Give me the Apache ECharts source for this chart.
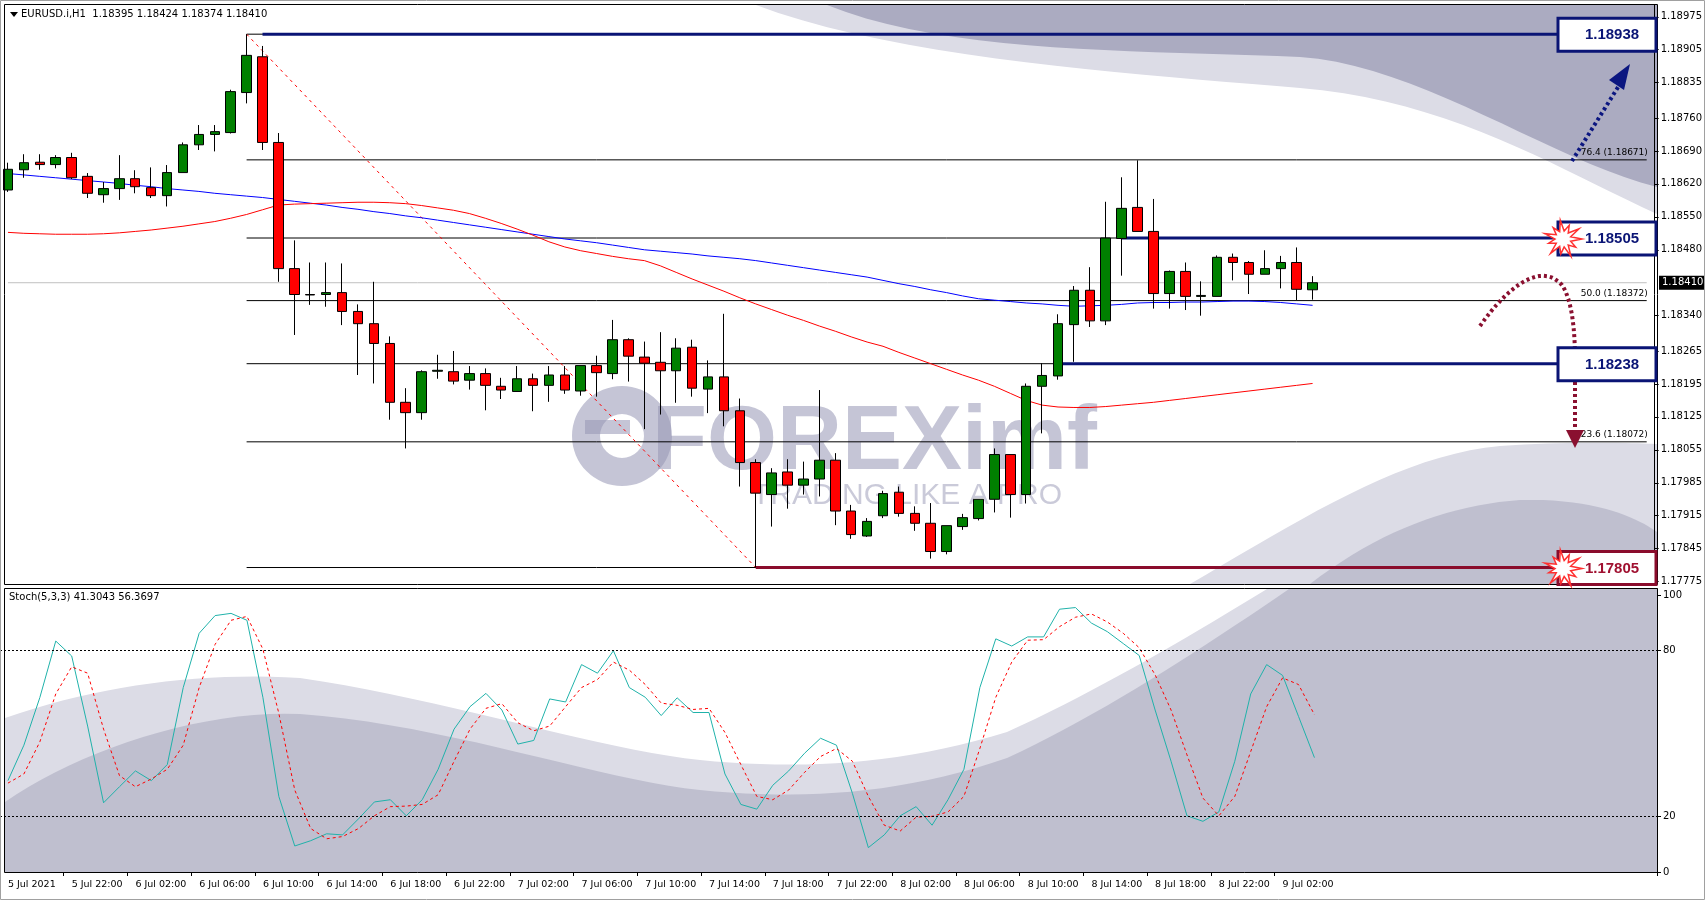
<!DOCTYPE html>
<html><head><meta charset="utf-8">
<script src="https://cdn.jsdelivr.net/npm/echarts@6/dist/echarts.min.js"></script>
<style>html,body{margin:0;padding:0;background:#fff}#c{width:1705px;height:900px}</style>
</head><body><div id="c"></div>
<script>
// ---------- DATA ----------
const opens = [1.18607,1.18650,1.18666,1.18661,1.18676,1.18636,1.18597,1.18610,1.18631,1.18612,1.18595,1.18644,1.18703,1.18725,1.18729,1.18814,1.18890,1.18708,1.18440,1.18385,1.18385,1.18389,1.18349,1.18323,1.18281,1.18156,1.18134,1.18222,1.18221,1.18203,1.18217,1.18190,1.18179,1.18206,1.18192,1.18214,1.18180,1.18234,1.18217,1.18289,1.18252,1.18241,1.18223,1.18273,1.18184,1.18210,1.18138,1.18028,1.17960,1.18008,1.17980,1.17993,1.18033,1.17925,1.17872,1.17915,1.17965,1.17920,1.17899,1.17839,1.17892,1.17909,1.17950,1.18045,1.17960,1.18190,1.18212,1.18321,1.18394,1.18329,1.18504,1.18570,1.18519,1.18387,1.18434,1.18381,1.18381,1.18464,1.18453,1.18428,1.18440,1.18453,1.18395];
const highs = [1.18665,1.18683,1.18683,1.18681,1.18686,1.18643,1.18624,1.18681,1.18649,1.18655,1.18660,1.18708,1.18745,1.18745,1.18820,1.18938,1.18913,1.18728,1.18500,1.18453,1.18453,1.18451,1.18364,1.18412,1.18296,1.18186,1.18224,1.18257,1.18265,1.18233,1.18228,1.18208,1.18233,1.18217,1.18233,1.18233,1.18234,1.18255,1.18331,1.18292,1.18285,1.18305,1.18292,1.18289,1.18245,1.18344,1.18164,1.18035,1.18016,1.18035,1.18030,1.18182,1.18048,1.17938,1.17910,1.17968,1.17977,1.17935,1.17942,1.17894,1.17919,1.17950,1.18058,1.18045,1.18196,1.18239,1.18343,1.18403,1.18443,1.18582,1.18634,1.18670,1.18588,1.18436,1.18453,1.18413,1.18468,1.18472,1.18456,1.18479,1.18467,1.18485,1.18424];
const lows = [1.18603,1.18633,1.18650,1.18653,1.18630,1.18590,1.18580,1.18586,1.18600,1.18590,1.18572,1.18644,1.18692,1.18689,1.18727,1.18791,1.18692,1.18412,1.18299,1.18363,1.18359,1.18320,1.18214,1.18196,1.18119,1.18058,1.18119,1.18206,1.18194,1.18183,1.18139,1.18163,1.18178,1.18137,1.18157,1.18174,1.18170,1.18168,1.18205,1.18200,1.18099,1.18130,1.18155,1.18168,1.18133,1.18105,1.17977,1.17805,1.17892,1.17930,1.17960,1.17956,1.17895,1.17866,1.17870,1.17910,1.17913,1.17883,1.17824,1.17833,1.17885,1.17905,1.17922,1.17911,1.17941,1.18090,1.18204,1.18242,1.18316,1.18320,1.18425,1.18519,1.18355,1.18355,1.18352,1.18340,1.18381,1.18415,1.18386,1.18428,1.18398,1.18372,1.18374];
const closes = [1.18651,1.18665,1.18661,1.18676,1.18633,1.18600,1.18610,1.18631,1.18614,1.18595,1.18644,1.18703,1.18725,1.18731,1.18816,1.18893,1.18708,1.18440,1.18385,1.18384,1.18389,1.18349,1.18323,1.18281,1.18156,1.18134,1.18221,1.18224,1.18201,1.18217,1.18192,1.18182,1.18206,1.18192,1.18214,1.18182,1.18234,1.18219,1.18289,1.18254,1.18239,1.18223,1.18271,1.18186,1.18210,1.18138,1.18028,1.17963,1.18006,1.17980,1.17993,1.18033,1.17925,1.17875,1.17903,1.17962,1.17920,1.17899,1.17839,1.17894,1.17911,1.17950,1.18045,1.17960,1.18190,1.18213,1.18323,1.18394,1.18329,1.18505,1.18568,1.18519,1.18387,1.18434,1.18381,1.18383,1.18464,1.18453,1.18428,1.18440,1.18453,1.18396,1.18410];
const maBlue = [1.18642,1.18639,1.18636,1.18633,1.18630,1.18627,1.18624,1.18621,1.18617,1.18614,1.18610,1.18607,1.18604,1.18600,1.18597,1.18594,1.18591,1.18587,1.18583,1.18579,1.18575,1.18570,1.18566,1.18561,1.18557,1.18552,1.18548,1.18543,1.18538,1.18533,1.18528,1.18523,1.18518,1.18513,1.18508,1.18503,1.18499,1.18495,1.18490,1.18485,1.18480,1.18477,1.18474,1.18471,1.18467,1.18464,1.18461,1.18457,1.18452,1.18447,1.18442,1.18437,1.18432,1.18427,1.18422,1.18415,1.18408,1.18402,1.18395,1.18389,1.18382,1.18376,1.18373,1.18370,1.18367,1.18365,1.18362,1.18360,1.18361,1.18362,1.18364,1.18367,1.18368,1.18368,1.18369,1.18369,1.18370,1.18371,1.18371,1.18370,1.18368,1.18365,1.18362];
const maRed = [1.18517,1.18515,1.18514,1.18513,1.18513,1.18513,1.18514,1.18516,1.18519,1.18522,1.18526,1.18530,1.18535,1.18540,1.18547,1.18555,1.18565,1.18575,1.18577,1.18578,1.18579,1.18580,1.18581,1.18581,1.18580,1.18578,1.18574,1.18569,1.18564,1.18557,1.18547,1.18536,1.18524,1.18511,1.18497,1.18486,1.18478,1.18472,1.18466,1.18461,1.18457,1.18446,1.18432,1.18418,1.18405,1.18392,1.18378,1.18365,1.18353,1.18341,1.18330,1.18318,1.18307,1.18295,1.18284,1.18275,1.18262,1.18250,1.18238,1.18226,1.18214,1.18203,1.18190,1.18175,1.18160,1.18150,1.18146,1.18145,1.18145,1.18147,1.18150,1.18153,1.18156,1.18160,1.18164,1.18168,1.18172,1.18176,1.18180,1.18184,1.18188,1.18192,1.18196];
const stochK = [33,45.8,63,83.4,78,52.7,25,30.8,36.5,33,38.8,66.6,86.2,92.6,93.4,90.9,63.1,27.3,9.4,11.3,13.8,13.4,19.2,25.3,26.1,20.3,26.1,37.1,51.6,59.7,64.5,58.5,46.2,47.5,62.5,61.4,74.9,71.8,79.9,66.6,63.1,56.5,62.9,57.6,57.6,35.4,24.4,22.7,31.3,36.5,42.9,48.3,45.8,28.4,8.8,13.4,20.3,23.6,16.9,26.1,37.1,66.6,84.2,81.6,84.9,84.9,94.9,95.5,89.9,86.8,82.5,78.2,58.5,40,20.3,18.3,21.7,40,64.3,74.9,71,56.2,41.3];
const stochD = [32.1,35.4,47,64.3,74.1,71.8,51.6,34.8,30.8,33.6,37.1,45.8,66.6,82.2,90.9,92.3,80.5,57.3,29.6,15.7,12,12.8,15.7,20.3,23.6,23.8,24.4,27.9,40,51.6,59.1,60.8,53.9,51,52.7,59.7,66.6,69.5,75.8,72.9,67.7,61,60.2,58.7,59.1,50.4,38.8,27.3,26.1,29.6,36,41.7,44.6,40,27.3,16.9,14.8,19.8,20.1,21.7,27.3,44.6,63.1,75.8,83.7,83.9,88.6,92,93.2,90.3,86.2,81,71.2,58.5,42.3,26.7,20.3,27.3,43.5,59.7,70.1,67.7,56.8];
const startTime = Date.UTC(2021,6,5,18);
const monthNames = ['Jan','Feb','Mar','Apr','May','Jun','Jul','Aug','Sep','Oct','Nov','Dec'];
const priceTicks = [1.18975,1.18905,1.18835,1.18760,1.18690,1.18620,1.18550,1.18480,1.18340,1.18265,1.18195,1.18125,1.18055,1.17985,1.17915,1.17845,1.17775];
const stochTicks = [0,20,80,100];
const fibLevels = [1.18938,1.18671,1.18505,1.18372,1.18238,1.18072,1.17805];
const fibLabels = {1.18671:'76.4 (1.18671)',1.18372:'50.0 (1.18372)',1.18072:'23.6 (1.18072)'};
const keyLevels = [ {v:1.18938, start:16, c:'#0a1475'}, {v:1.18505, start:70, c:'#0a1475'}, {v:1.18238, start:66, c:'#0a1475'}, {v:1.17805, start:47, c:'#8a0c2c'} ];
const lastPrice = 1.18410;
const fibStart = 15, swingHigh = [15,1.18938], swingLow = [47,1.17805];
const NSLOTS = 104;

// ---------- BUILD ----------
const cats = [];
for (let i=0;i<NSLOTS;i++){
  if (i < opens.length){
    const d = new Date(startTime + i*3600000);
    const hh = String(d.getUTCHours()).padStart(2,'0');
    cats.push(i===0 ? d.getUTCDate()+' '+monthNames[d.getUTCMonth()]+' '+d.getUTCFullYear() : d.getUTCDate()+' '+monthNames[d.getUTCMonth()]+' '+hh+':00');
  } else cats.push('');
}
const candles = opens.map((o,i)=>[o,closes[i],lows[i],highs[i]]);
const series = [];
series.push({type:'line',xAxisIndex:0,yAxisIndex:0,symbol:'none',silent:true,z:1,
  lineStyle:{color:'#c0c0c0',width:1},data:[[0,lastPrice],[NSLOTS-1,lastPrice]]});
fibLevels.forEach(l=>{
  series.push({type:'line',xAxisIndex:0,yAxisIndex:0,symbol:'none',silent:true,z:1,
    lineStyle:{color:'#000',width:1},
    data:[[fibStart,l],[NSLOTS-1,l]],
    endLabel:{show:!!fibLabels[l],formatter:fibLabels[l]||'',fontSize:9,fontFamily:'DejaVu Sans',color:'#000',offset:[-74,-7]}
  });
});
keyLevels.forEach(k=>{
  series.push({type:'line',xAxisIndex:0,yAxisIndex:0,symbol:'none',silent:true,z:3,
    lineStyle:{color:k.c,width:3},data:[[k.start,k.v],[NSLOTS-1,k.v]]});
});
series.push({type:'line',xAxisIndex:0,yAxisIndex:0,symbol:'none',z:2,lineStyle:{color:'#ff0000',width:1,type:[3,4]},data:[swingHigh,swingLow]});
series.push({type:'line',xAxisIndex:0,yAxisIndex:0,symbol:'none',z:2,lineStyle:{color:'#0000ff',width:1},data:maBlue});
series.push({type:'line',xAxisIndex:0,yAxisIndex:0,symbol:'none',z:2,lineStyle:{color:'#ff0000',width:1},data:maRed});
series.push({type:'candlestick',xAxisIndex:0,yAxisIndex:0,barWidth:10,z:4,data:candles,
  itemStyle:{color:'#008000',color0:'#ff0000',borderColor:'#000',borderColor0:'#000',borderWidth:1}});
series.push({type:'line',xAxisIndex:1,yAxisIndex:1,symbol:'none',z:3,lineStyle:{color:'#20b2aa',width:1},data:stochK,
  markLine:{symbol:'none',silent:true,animation:false,label:{show:false},lineStyle:{color:'#000',width:1,type:[2,2]},data:[{yAxis:80},{yAxis:20}]}});
series.push({type:'line',xAxisIndex:1,yAxisIndex:1,symbol:'none',z:3,lineStyle:{color:'#ff0000',width:1,type:[3,3]},data:stochD});

const lbl = {fontSize:10,fontFamily:'DejaVu Sans',color:'#000'};
const tickShow = (idx,val)=> val!=='' && idx%4===0;
const option = {
  animation:false,
  grid:[{left:-1,right:48,top:5,height:579},{left:-1,right:48,top:589,height:283}],
  xAxis:[
    {type:'category',gridIndex:0,data:cats,show:false},
    {type:'category',gridIndex:1,data:cats,axisLine:{show:false},
     axisTick:{show:true,interval:tickShow,length:4,lineStyle:{color:'#000'}},
     axisLabel:Object.assign({interval:tickShow,align:'left',margin:8},lbl,{fontSize:9.5})}
  ],
  yAxis:[
    {type:'value',gridIndex:0,position:'right',min:1.1777,max:1.19,splitLine:{show:false},
     axisLine:{show:true,lineStyle:{color:'#000'}},
     axisTick:{show:true,length:4,customValues:priceTicks,lineStyle:{color:'#000'}},
     axisLabel:Object.assign({customValues:priceTicks,margin:6,formatter:v=>v.toFixed(5)},lbl)},
    {type:'value',gridIndex:1,position:'right',min:0,max:102.2,splitLine:{show:false},
     axisLine:{show:true,lineStyle:{color:'#000'}},
     axisTick:{show:true,length:4,customValues:stochTicks,lineStyle:{color:'#000'}},
     axisLabel:Object.assign({customValues:stochTicks,margin:6},lbl)}
  ],
  series
};
const chart = echarts.init(document.getElementById('c'));
chart.setOption(option);

// ---------- DECORATION ----------
const Y = v => chart.convertToPixel({yAxisIndex:0}, v);
function curve(start, segs, tail){
  const pts=[start.slice()]; let p=start;
  segs.forEach(s=>{
    for(let t=1;t<=20;t++){const u=t/20,a=(1-u)**3,b=3*(1-u)**2*u,c=3*(1-u)*u*u,d=u**3;
      pts.push([a*p[0]+b*s[0]+c*s[2]+d*s[4], a*p[1]+b*s[1]+c*s[3]+d*s[5]]);}
    p=[s[4],s[5]];
  });
  return pts.concat(tail||[]);
}
const light = '#dcdce6', dark = '#ababc1', dark2 = '#bfbfcf';
const g = [];
g.push({type:'polygon',z:-10,shape:{points:curve([756,5],[[900,60,1150,75,1300,88],[1450,100,1560,170,1657,214]],[[1657,5]])},style:{fill:light}});
g.push({type:'polygon',z:-9,shape:{points:curve([827,5],[[950,55,1150,50,1300,57],[1420,65,1550,160,1657,187]],[[1657,5]])},style:{fill:dark}});
g.push({type:'polygon',z:-10,shape:{points:curve([1190,584],[[1300,520,1400,455,1500,446],[1580,440,1657,444,1657,444]],[[1657,584]])},style:{fill:light}});
g.push({type:'polygon',z:-9,shape:{points:curve([1310,584],[[1380,530,1450,505,1520,500],[1600,498,1640,520,1657,532]],[[1657,584]])},style:{fill:dark2}});
g.push({type:'polygon',z:-10,shape:{points:curve([5,718],[[100,685,200,672,300,678],[450,700,600,750,700,760],[800,770,900,765,1007,732],[1100,690,1200,630,1267,589]],[[1657,589],[1657,872],[5,872]])},style:{fill:light}});
g.push({type:'polygon',z:-9,shape:{points:curve([5,802],[[80,750,200,710,300,714],[450,725,600,780,700,790],[800,800,900,795,1007,758],[1100,715,1200,650,1289,589]],[[1657,589],[1657,872],[5,872]])},style:{fill:dark2}});
// watermark
const wm = 'rgba(150,150,180,0.55)';
g.push({type:'ring',z:-5,shape:{cx:622,cy:436,r:50,r0:22},style:{fill:wm}});
g.push({type:'rect',z:-5,shape:{x:585,y:420,width:45,height:14},style:{fill:wm}});
g.push({type:'text',z:-5,style:{x:652,y:444,text:'FOREXimf',fill:wm,font:'bold 90px "Liberation Sans"',verticalAlign:'middle'}});
g.push({type:'text',z:-5,style:{x:752,y:496,text:'TRADING LIKE A PRO',fill:'rgba(150,150,180,0.5)',font:'30px "Liberation Sans"',verticalAlign:'middle'}});
// frames
g.push({type:'rect',z:50,shape:{x:4.5,y:4.5,width:1653,height:580},style:{fill:'none',stroke:'#000',lineWidth:1}});
g.push({type:'rect',z:50,shape:{x:4.5,y:588.5,width:1653,height:284},style:{fill:'none',stroke:'#000',lineWidth:1}});
g.push({type:'rect',z:49,shape:{x:0.5,y:0.5,width:1704,height:899},style:{fill:'none',stroke:'#a0a0a0',lineWidth:1}});
// headers
g.push({type:'polygon',z:50,shape:{points:[[10,12],[18,12],[14,17]]},style:{fill:'#000'}});
g.push({type:'text',z:50,style:{x:21,y:14,text:'EURUSD.i,H1  1.18395 1.18424 1.18374 1.18410',font:'10px "DejaVu Sans"',fill:'#000',verticalAlign:'middle'}});
g.push({type:'text',z:50,style:{x:9,y:597,text:'Stoch(5,3,3) 41.3043 56.3697',font:'10px "DejaVu Sans"',fill:'#000',verticalAlign:'middle'}});
// current price tag
const yp = Y(lastPrice);
g.push({type:'rect',z:70,shape:{x:1659,y:yp-7,width:45,height:14},style:{fill:'#000'}});
g.push({type:'text',z:71,style:{x:1662,y:yp,text:lastPrice.toFixed(5),font:'10px "DejaVu Sans"',fill:'#fff',verticalAlign:'middle'}});
// boxes
function star(cx,cy){const pts=[];const n=11;for(let k=0;k<2*n;k++){const r=k%2?8:(k%4?15:19);const a=k*Math.PI/n;pts.push([cx+r*Math.cos(a),cy+r*Math.sin(a)]);}return pts;}
keyLevels.forEach(k=>{
  const y = Y(k.v);
  g.push({type:'rect',z:60,shape:{x:1558,y:y-16,width:98,height:33},style:{fill:'#fff',stroke:k.c,lineWidth:3}});
  g.push({type:'text',z:61,style:{x:1612,y:y+1,text:k.v.toFixed(5),font:'bold 15px "Liberation Sans"',fill:k.c==='#8a0c2c'?'#a01030':'#0a1475',align:'center',verticalAlign:'middle'}});
  if (k.v===1.18505 || k.v===1.17805){
    g.push({type:'polygon',z:62,shape:{points:star(1563,y+1)},style:{fill:'#fff',stroke:'#ff3030',lineWidth:1.5}});
  }
});
// arrows
g.push({type:'line',z:58,shape:{x1:1572,y1:161,x2:1620,y2:84},style:{stroke:'#0b1680',lineWidth:4,lineDash:[3,3]}});
g.push({type:'polygon',z:58,shape:{points:[[1630,64],[1609,80],[1624,90]]},style:{fill:'#0b1680'}});
g.push({type:'polyline',z:58,shape:{points:curve([1480,326],[[1505,290,1540,260,1562,285],[1572,300,1575,330,1575,360]])},style:{stroke:'#8a1030',lineWidth:4,lineDash:[3,3],fill:'none'}});
g.push({type:'line',z:58,shape:{x1:1575,y1:382,x2:1575,y2:430},style:{stroke:'#8a1030',lineWidth:4,lineDash:[3,3]}});
g.push({type:'polygon',z:58,shape:{points:[[1566,430],[1584,430],[1575,448]]},style:{fill:'#8a1030'}});
chart.setOption({graphic:g});
</script></body></html>
